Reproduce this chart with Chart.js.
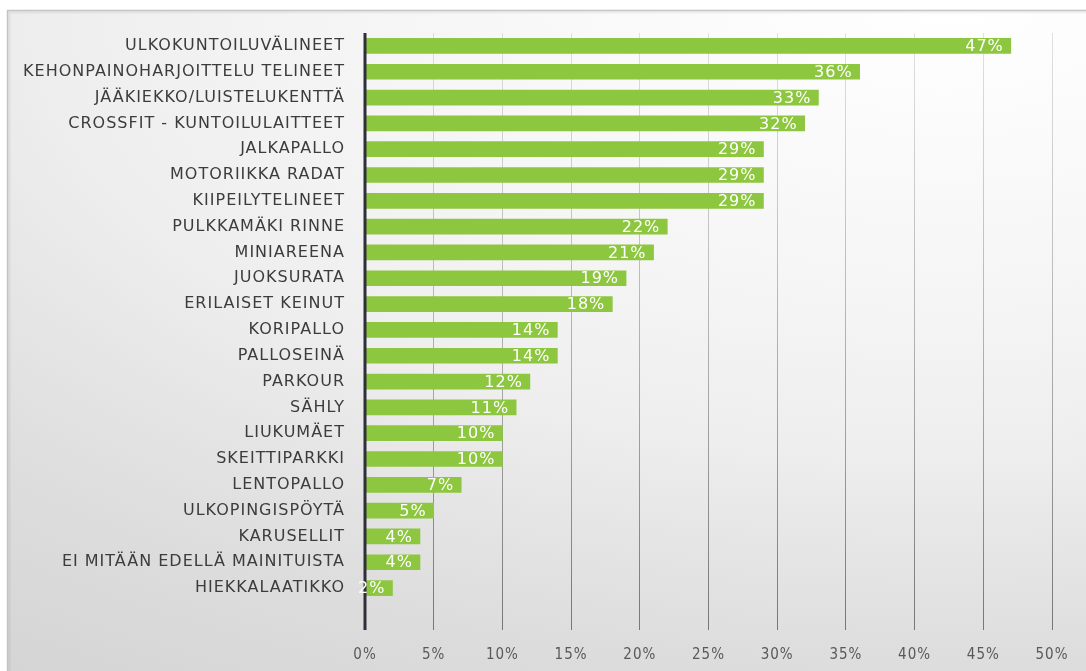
<!DOCTYPE html>
<html>
<head>
<meta charset="utf-8">
<script src="https://cdn.jsdelivr.net/npm/chart.js@4/dist/chart.umd.min.js"></script>
<style>
  html, body { margin: 0; padding: 0; background: #ffffff; }
  #wrap { width: 1086px; height: 671px; position: relative; }
</style>
</head>
<body>
<div id="wrap"><canvas id="c" width="1086" height="671"></canvas></div>
<script>
// Categories and shares (%) of respondents
const categories = [
  'ULKOKUNTOILUVÄLINEET',
  'KEHONPAINOHARJOITTELU TELINEET',
  'JÄÄKIEKKO/LUISTELUKENTTÄ',
  'CROSSFIT - KUNTOILULAITTEET',
  'JALKAPALLO',
  'MOTORIIKKA RADAT',
  'KIIPEILYTELINEET',
  'PULKKAMÄKI RINNE',
  'MINIAREENA',
  'JUOKSURATA',
  'ERILAISET KEINUT',
  'KORIPALLO',
  'PALLOSEINÄ',
  'PARKOUR',
  'SÄHLY',
  'LIUKUMÄET',
  'SKEITTIPARKKI',
  'LENTOPALLO',
  'ULKOPINGISPÖYTÄ',
  'KARUSELLIT',
  'EI MITÄÄN EDELLÄ MAINITUISTA',
  'HIEKKALAATIKKO'
];
const shares = [47, 36, 33, 32, 29, 29, 29, 22, 21, 19, 18, 14, 14, 12, 11, 10, 10, 7, 5, 4, 4, 2];
const axisMin = 0;
const axisMax = 50;
const axisStep = 5;

const FONT = '"DejaVu Sans", sans-serif';
const FONT_NARROW = '"DejaVu Sans Condensed", "DejaVu Sans", sans-serif';
const GRID_TAIL = 29;   // gridlines and axis run on below the last bar

// Framed panel with a soft elliptical gradient behind the plot
const panelBackground = {
  id: 'panelBackground',
  beforeDraw(chart) {
    const ctx = chart.ctx;
    const x0 = 7, y0 = 10, w = chart.width - x0, h = chart.height - y0;
    ctx.save();
    ctx.scale(1, 0.5);
    const g = ctx.createRadialGradient(950, 0, 10, 950, 0, 1700);
    g.addColorStop(0, '#ffffff');
    g.addColorStop(0.35, '#f5f5f5');
    g.addColorStop(0.53, '#eeeeee');
    g.addColorStop(0.64, '#e6e6e6');
    g.addColorStop(0.78, '#dddddd');
    g.addColorStop(1, '#d3d3d3');
    ctx.fillStyle = g;
    ctx.fillRect(x0, y0 * 2, w, h * 2);
    ctx.restore();

    ctx.save();
    ctx.strokeStyle = '#c4c4c4';
    ctx.lineWidth = 1.5;
    ctx.beginPath();
    ctx.moveTo(x0 + 0.5, chart.height);
    ctx.lineTo(x0 + 0.5, y0 + 0.5);
    ctx.lineTo(chart.width, y0 + 0.5);
    ctx.stroke();
    ctx.strokeStyle = 'rgba(0,0,0,0.05)';
    ctx.lineWidth = 2;
    ctx.beginPath();
    ctx.moveTo(x0 + 2.5, chart.height);
    ctx.lineTo(x0 + 2.5, y0 + 2.5);
    ctx.lineTo(chart.width, y0 + 2.5);
    ctx.stroke();
    ctx.restore();
    // slightly tracked lettering for all texts
    ctx.letterSpacing = '1px';
  }
};

// Value axis line and white percentage labels at the inner end of each bar
const barValueLabels = {
  id: 'barValueLabels',
  afterDatasetsDraw(chart) {
    const ctx = chart.ctx;
    const area = chart.chartArea;
    const xs = chart.scales.x;
    const x0 = xs.getPixelForValue(axisMin);
    ctx.save();
    ctx.strokeStyle = '#2f2f3a';
    ctx.lineWidth = 3;
    ctx.beginPath();
    ctx.moveTo(x0, area.top);
    ctx.lineTo(x0, area.bottom + GRID_TAIL);
    ctx.stroke();

    const meta = chart.getDatasetMeta(0);
    ctx.font = '16px ' + FONT;
    ctx.fillStyle = '#ffffff';
    ctx.textAlign = 'right';
    ctx.textBaseline = 'middle';
    meta.data.forEach((bar, i) => {
      ctx.fillText(shares[i] + '%', bar.x - 7, bar.y + 1);
    });
    ctx.restore();
  }
};

function gridGradient(context) {
  const chart = context.chart;
  const area = chart.chartArea;
  if (!area) return 'rgba(120,120,120,0.5)';
  const g = chart.ctx.createLinearGradient(0, area.top, 0, area.bottom + GRID_TAIL);
  g.addColorStop(0, 'rgba(170,170,170,0.35)');
  g.addColorStop(1, 'rgba(100,100,100,0.85)');
  return g;
}

new Chart(document.getElementById('c'), {
  type: 'bar',
  data: {
    labels: categories,
    datasets: [{
      data: shares,
      backgroundColor: '#8dc63f',
      borderWidth: 0,
      barThickness: 15
    }]
  },
  options: {
    indexAxis: 'y',
    responsive: false,
    animation: false,
    layout: { padding: { top: 33, right: 34, bottom: 0, left: 0 } },
    plugins: {
      legend: { display: false },
      tooltip: { enabled: false }
    },
    scales: {
      x: {
        min: axisMin,
        max: axisMax,
        ticks: {
          stepSize: axisStep,
          color: '#595959',
          font: { family: FONT_NARROW, size: 15 },
          padding: 16,
          callback: v => v + '%'
        },
        grid: {
          color: gridGradient,
          lineWidth: 1,
          drawTicks: true,
          tickLength: GRID_TAIL
        },
        border: { display: false },
        afterFit(scale) {
          scale.height = 70;
          scale.paddingLeft = 0;
          scale.paddingRight = 0;
        }
      },
      y: {
        ticks: {
          color: '#3c3c3c',
          font: { family: FONT, size: 16 },
          padding: 20,
          autoSkip: false
        },
        grid: { display: false, drawTicks: false },
        border: { display: false },
        afterFit(scale) { scale.width = 365; }
      }
    }
  },
  plugins: [panelBackground, barValueLabels]
});
</script>
</body>
</html>
